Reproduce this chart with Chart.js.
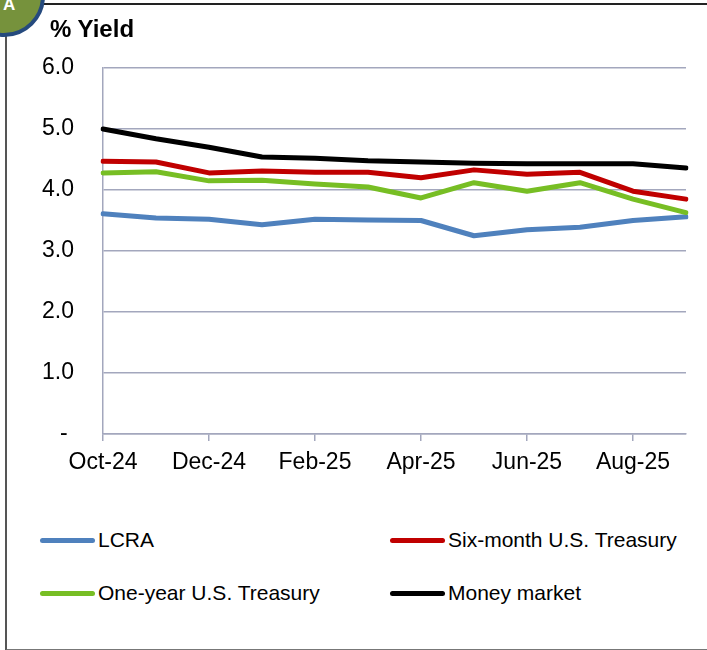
<!DOCTYPE html>
<html lang="en">

<head>
    <meta charset="UTF-8">
    <title>% Yield</title>
    <script src="https://cdn.jsdelivr.net/npm/chart.js"></script>
    <style>
        body {
            margin: 0;
            padding: 0;
            background: #fff;
            font-family: 'Liberation Sans', Arial, sans-serif;
        }

        .frame {
            position: relative;
            width: 707px;
            height: 650px;
            overflow: hidden;
        }

        .box {
            position: absolute;
            left: 5px;
            top: 3px;
            width: 720px;
            height: 644px;
            border-left: 2px solid #555;
            border-top: 2px solid #222;
            border-bottom: 2px solid #777;
        }

        .badge {
            position: absolute;
            left: -37px;
            top: -45px;
            width: 74px;
            height: 74px;
            border-radius: 50%;
            background: #76923C;
            border: 4px solid #254A7E;
        }

        .badge-letter {
            position: absolute;
            left: 3px;
            top: -5px;
            color: #fff;
            font-weight: bold;
            font-size: 17px;
        }

        .title {
            position: absolute;
            left: 50px;
            top: 15px;
            font-weight: bold;
            font-size: 24px;
            color: #000;
        }

        .chart-wrap {
            position: absolute;
            left: 0;
            top: 0;
            width: 707px;
            height: 490px;
        }

        .legend-item {
            position: absolute;
            height: 26px;
            font-family: 'Liberation Sans', Arial, sans-serif;
            font-size: 21px;
            color: #000;
            white-space: nowrap;
        }

        .legend-item span.swatch {
            position: absolute;
            left: 0;
            top: 10px;
            width: 55px;
            height: 5px;
            border-radius: 3px;
        }

        .legend-item span.label {
            position: absolute;
            left: 58px;
            top: 0;
        }
    </style>
</head>

<body>
    <div class="frame">
        <div class="box"></div>
        <div class="chart-wrap"><canvas id="yieldChart"></canvas></div>
        <div class="title">% Yield</div>
        <div class="badge"></div>
        <div class="badge-letter">A</div>
        <div id="legend"></div>
    </div>

    <script>
        // month labels (every other one is shown on the axis)
        const months = ['Oct-24', 'Nov-24', 'Dec-24', 'Jan-25', 'Feb-25', 'Mar-25',
            'Apr-25', 'May-25', 'Jun-25', 'Jul-25', 'Aug-25', 'Sep-25'];

        const lcra = [3.61, 3.54, 3.52, 3.43, 3.52, 3.51, 3.50, 3.25, 3.35, 3.39, 3.50, 3.56];
        const sixMonth = [4.47, 4.46, 4.28, 4.31, 4.29, 4.29, 4.20, 4.33, 4.26, 4.29, 3.98, 3.85];
        const oneYear = [4.28, 4.30, 4.15, 4.16, 4.10, 4.05, 3.87, 4.12, 3.98, 4.12, 3.85, 3.63];
        const moneyMarket = [5.00, 4.84, 4.70, 4.54, 4.52, 4.48, 4.46, 4.44, 4.43, 4.43, 4.43, 4.36];

        const yTicks = [0, 1, 2, 3, 4, 5, 6];

        const seriesNames = ['LCRA', 'Six-month U.S. Treasury', 'One-year U.S. Treasury', 'Money market'];
        const seriesColors = ['#4F81BD', '#C00000', '#77BE24', '#000000'];
        const seriesData = [lcra, sixMonth, oneYear, moneyMarket];

        const gridColor = '#A3A7BD';

        const ctx = document.getElementById('yieldChart').getContext('2d');
        const yieldChart = new Chart(ctx, {
            type: 'line',
            data: {
                labels: months,
                datasets: seriesData.map((d, i) => ({
                    label: seriesNames[i],
                    data: d,
                    borderColor: seriesColors[i],
                    backgroundColor: seriesColors[i],
                    borderWidth: 5,
                    pointRadius: 0,
                    tension: 0,
                    borderCapStyle: 'round',
                    borderJoinStyle: 'round',
                    // later series drawn on top, like the original
                    order: seriesData.length - i
                }))
            },
            options: {
                responsive: true,
                maintainAspectRatio: false,
                animation: false,
                layout: {
                    padding: { top: 68, right: 21, bottom: 0, left: 0 }
                },
                plugins: {
                    legend: { display: false },
                    tooltip: { enabled: false }
                },
                scales: {
                    x: {
                        offset: false,
                        afterFit: (scale) => { scale.height = 56; },
                        grid: {
                            drawOnChartArea: false,
                            drawTicks: true,
                            tickLength: 7,
                            color: gridColor,
                            lineWidth: 1.5
                        },
                        border: { color: gridColor, width: 1.5 },
                        ticks: {
                            autoSkip: false,
                            maxRotation: 0,
                            padding: 8,
                            color: '#000',
                            font: { family: 'Liberation Sans', size: 23 },
                            callback: function (value, index) {
                                return index % 2 === 0 ? months[index] : null;
                            }
                        }
                    },
                    y: {
                        min: 0,
                        max: 6,
                        afterFit: (scale) => { scale.width = 103; },
                        afterBuildTicks: (scale) => {
                            scale.ticks = yTicks.map(v => ({ value: v }));
                        },
                        grid: {
                            drawTicks: false,
                            color: gridColor,
                            lineWidth: 1.5
                        },
                        border: { color: gridColor, width: 1.5 },
                        ticks: {
                            padding: 29,
                            color: '#000',
                            font: { family: 'Liberation Sans', size: 23 },
                            callback: function (value) {
                                return value === 0 ? '- ' : value.toFixed(1);
                            }
                        }
                    }
                }
            }
        });

        // two-column legend like the original
        const legendSpots = [
            { left: 40, top: 528 },
            { left: 390, top: 528 },
            { left: 40, top: 581 },
            { left: 390, top: 581 }
        ];
        const legendEl = document.getElementById('legend');
        yieldChart.data.datasets.forEach((ds, i) => {
            const item = document.createElement('div');
            item.className = 'legend-item';
            item.style.left = legendSpots[i].left + 'px';
            item.style.top = legendSpots[i].top + 'px';
            item.innerHTML = '<span class="swatch" style="background:' + ds.borderColor + '"></span>' +
                '<span class="label">' + ds.label + '</span>';
            legendEl.appendChild(item);
        });
    </script>
</body>

</html>
